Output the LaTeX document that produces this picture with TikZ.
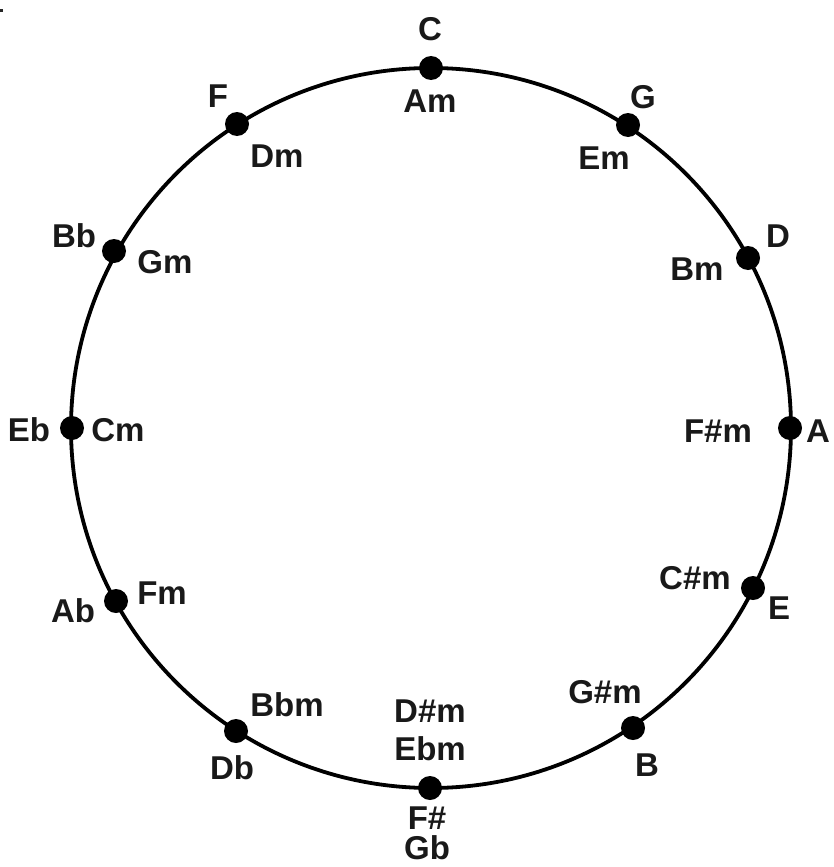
\documentclass[tikz,border=0pt]{standalone}
\usepackage{fontspec}
\setmainfont{Liberation Sans}
\begin{document}
\begin{tikzpicture}[x=1pt,y=-1pt,
  keydot/.style={circle,fill=black,inner sep=0pt,minimum size=24pt},
  keylabel/.style={font=\fontsize{33}{35}\selectfont\bfseries,inner sep=0pt,text=black!90}]
\useasboundingbox (0,0) rectangle (834,867);
\fill[black!85] (0,9) rectangle (3,12);
\draw[line width=3.8pt] (431,428) circle (360);
% dots
\node[keydot] (dC)  at (431,68) {};
\node[keydot] (dG)  at (628,125) {};
\node[keydot] (dD)  at (748,258) {};
\node[keydot] (dA)  at (790,428) {};
\node[keydot] (dE)  at (753,588) {};
\node[keydot] (dB)  at (633,728) {};
\node[keydot] (dFs) at (430,788) {};
\node[keydot] (dDb) at (236,731) {};
\node[keydot] (dAb) at (116,601) {};
\node[keydot] (dEb) at (72,428) {};
\node[keydot] (dBb) at (114,251) {};
\node[keydot] (dF)  at (237,124) {};
% labels
\node[keylabel] (lC)   at (430,29) {C};
\node[keylabel] (lAm)  at (430,101) {Am};
\node[keylabel] (lG)   at (643,97) {G};
\node[keylabel] (lEm)  at (604,158) {Em};
\node[keylabel] (lD)   at (778,236) {D};
\node[keylabel] (lBm)  at (697,269) {Bm};
\node[keylabel] (lA)   at (818,431) {A};
\node[keylabel] (lFsm) at (718,431) {F\#m};
\node[keylabel] (lCsm) at (695,578) {C\#m};
\node[keylabel] (lE)   at (779,608) {E};
\node[keylabel] (lGsm) at (605,692) {G\#m};
\node[keylabel] (lB)   at (647,765) {B};
\node[keylabel] (lDsm) at (430,711) {D\#m};
\node[keylabel] (lEbm) at (430,749) {Ebm};
\node[keylabel] (lFs)  at (427,818) {F\#};
\node[keylabel] (lGb)  at (427,848) {Gb};
\node[keylabel] (lBbm) at (287,705) {Bbm};
\node[keylabel] (lDb)  at (232,768) {Db};
\node[keylabel] (lAb)  at (73,611) {Ab};
\node[keylabel] (lFm)  at (162,593) {Fm};
\node[keylabel] (lEb)  at (29,430) {Eb};
\node[keylabel] (lCm)  at (118,430) {Cm};
\node[keylabel] (lBb)  at (74,236) {Bb};
\node[keylabel] (lGm)  at (165,262) {Gm};
\node[keylabel] (lF)   at (218,96) {F};
\node[keylabel] (lDm)  at (277,156) {Dm};
\end{tikzpicture}
\end{document}
